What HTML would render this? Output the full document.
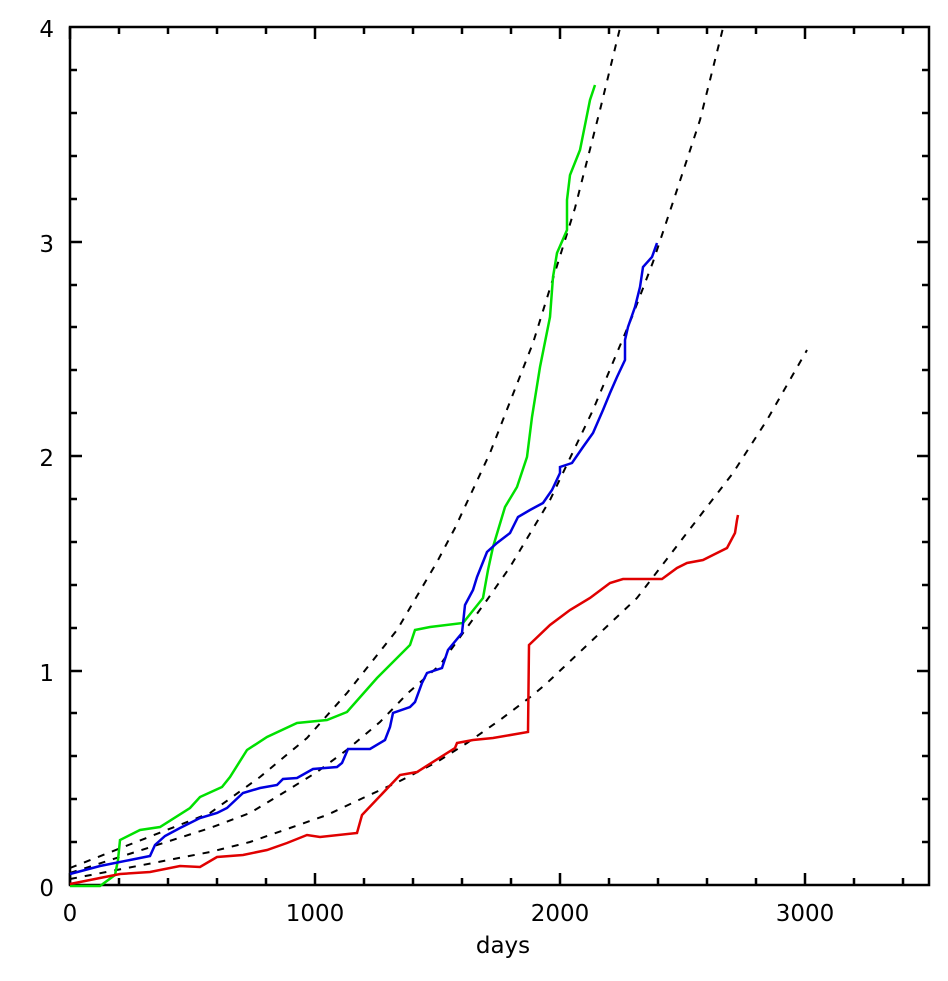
<!DOCTYPE html><html><head><style>body{margin:0;background:#fff}</style></head><body>
<svg width="948" height="976" xmlns="http://www.w3.org/2000/svg" font-family="DejaVu Sans, sans-serif" font-size="23">
<rect width="948" height="976" fill="#fff"/>
<g stroke="#000" stroke-width="2.5" fill="none">
<rect x="70" y="27" width="859" height="858"/>
<path d="M70 885v-12M315 885v-12M560 885v-12M805 885v-12M70 27v12M315 27v12M560 27v12M805 27v12
M119 885v-7M168 885v-7M217 885v-7M266 885v-7M364 885v-7M413 885v-7M462 885v-7M511 885v-7M609 885v-7M658 885v-7M707 885v-7M756 885v-7M854 885v-7M903 885v-7
M119 27v7M168 27v7M217 27v7M266 27v7M364 27v7M413 27v7M462 27v7M511 27v7M609 27v7M658 27v7M707 27v7M756 27v7M854 27v7M903 27v7
M70 671h12M70 456h12M70 242h12M929 671h-12M929 456h-12M929 242h-12
M70 842h7M70 799h7M70 756h7M70 713h7M70 628h7M70 585h7M70 542h7M70 499h7M70 413h7M70 370h7M70 327h7M70 285h7M70 199h7M70 156h7M70 113h7M70 70h7
M929 842h-7M929 799h-7M929 756h-7M929 713h-7M929 628h-7M929 585h-7M929 542h-7M929 499h-7M929 413h-7M929 370h-7M929 327h-7M929 285h-7M929 199h-7M929 156h-7M929 113h-7M929 70h-7"/>
</g>
<g text-anchor="end"><text x="54" y="896">0</text><text x="54" y="681">1</text><text x="54" y="466">2</text><text x="54" y="252">3</text><text x="54" y="37">4</text></g>
<g text-anchor="middle"><text x="70" y="921">0</text><text x="315" y="921">1000</text><text x="560" y="921">2000</text><text x="805" y="921">3000</text><text x="503" y="953">days</text></g>
<g fill="none" stroke="#000" stroke-width="2" stroke-dasharray="7,8">
<polyline points="70,868 210,813 260,777 307,738 347,693 397,630 437,562 455,528 490,453 533,343 575,208 600,110 620,28"/>
<polyline points="70,873 210,828 250,813 283,793 317,772 348,749 380,722 408,693 440,665 463,633 487,600 510,567 550,500 593,410 632,317 653,262 673,202 700,120 723,28"/>
<polyline points="70,879 210,852 250,842 290,828 327,815 363,798 398,782 437,762 467,743 500,720 533,695 547,683 637,598 683,538 733,473 767,420 807,350"/>
</g>
<g fill="none" stroke-width="2.5">
<polyline stroke="#00e000" points="70,886 100,886 115,875 118,860 120,840 140,830 160,827 190,808 200,797 222,787 230,777 247,750 267,737 297,723 327,720 347,712 377,678 410,645 415,630 430,627 463,623 483,598 488,570 493,547 505,507 517,487 527,457 532,417 540,367 550,317 553,277 557,253 567,230 567,200 570,175 580,150 590,100 595,85"/>
<polyline stroke="#0000e0" points="70,874 100,866 130,860 150,856 155,845 165,836 180,828 200,818 217,813 227,808 243,793 260,788 277,785 283,779 297,778 313,769 337,767 342,763 348,749 370,749 385,740 390,727 393,713 410,707 415,702 422,683 427,673 442,668 448,650 462,633 465,605 473,590 477,577 487,552 497,543 510,533 518,517 530,510 543,503 552,490 560,473 560,467 572,463 583,447 593,433 603,410 610,393 617,377 625,360 625,340 628,327 635,307 640,287 643,267 652,257 657,243"/>
<polyline stroke="#e00000" points="70,884 100,878 120,874 150,872 180,866 200,867 217,857 243,855 267,850 287,843 307,835 320,837 357,833 362,815 400,775 417,772 455,748 457,743 473,740 493,738 528,732 529,645 550,625 570,610 590,598 610,583 623,579 662,579 677,568 687,563 703,560 713,555 727,548 735,533 737,520 738,515"/>
</g>
</svg></body></html>
